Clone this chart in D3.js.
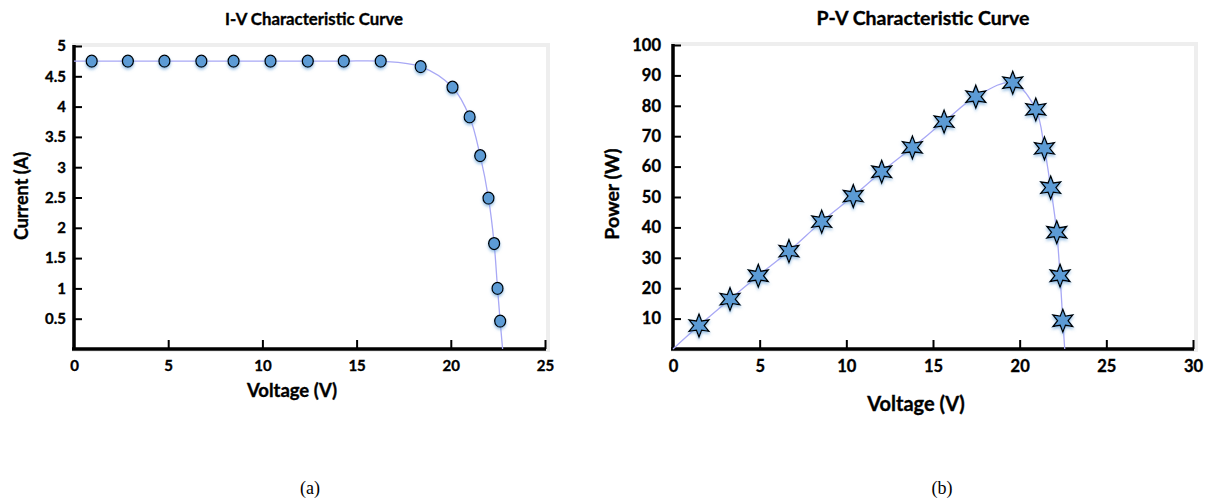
<!DOCTYPE html>
<html>
<head>
<meta charset="utf-8">
<script src="https://cdn.jsdelivr.net/npm/d3@7"></script>
<style>
	body { margin: 0; background: #fff; }
	svg text { font-family: Lato, "Open Sans", sans-serif; font-weight: bold; fill: #000; stroke: #000; stroke-width: 0.35px; }
	svg text.cap { font-family: "Liberation Serif", "DejaVu Serif", serif; font-weight: normal; stroke: none; }
</style>
</head>
<body>
<svg id="chart" width="1209" height="501"></svg>
<script>
// I-V curve markers
var ivVoltage = [0.94, 2.86, 4.80, 6.76, 8.47, 10.43, 12.41, 14.32, 16.28, 18.40, 20.09, 21.0, 21.56, 22.0, 22.3, 22.48, 22.62];
var ivCurrent = [4.75, 4.75, 4.75, 4.75, 4.75, 4.75, 4.75, 4.75, 4.75, 4.66, 4.32, 3.83, 3.19, 2.49, 1.74, 1.0, 0.46];
var ivShortCircuit = 4.75;   // line starts at V = 0
var ivOpenCircuit = 22.75;   // line ends at I = 0

// P-V curve markers
var pvVoltage = [1.50, 3.29, 4.92, 6.69, 8.58, 10.40, 12.04, 13.81, 15.64, 17.47, 19.60, 20.93, 21.43, 21.79, 22.14, 22.33, 22.49];
var pvPower = [7.7, 16.4, 24.1, 32.2, 41.9, 50.3, 58.3, 66.3, 74.8, 83.0, 87.6, 78.8, 66.0, 53.1, 38.4, 24.1, 9.3];
var pvOpenCircuit = 22.6;

var ivXTicks = [0, 5, 10, 15, 20, 25];
var ivYTicks = [0.5, 1, 1.5, 2, 2.5, 3, 3.5, 4, 4.5, 5];
var pvXTicks = [0, 5, 10, 15, 20, 25, 30];
var pvYTicks = [10, 20, 30, 40, 50, 60, 70, 80, 90, 100];

var svg = d3.select("#chart");

var defs = svg.append("defs");
var shadow = defs.append("filter")
	.attr("id", "glow")
	.attr("x", "-50%").attr("y", "-50%")
	.attr("width", "200%").attr("height", "200%");
shadow.append("feDropShadow")
	.attr("dx", 0)
	.attr("dy", 2)
	.attr("stdDeviation", 1.6)
	.attr("flood-color", "#5b9bd5")
	.attr("flood-opacity", 0.6);

var lineColor = "#a8a8f5";
var markFill = "#5b9bd5";

function drawFrame(g, x, y, fs, pad)
{
	var x0 = x.range()[0], x1 = x.range()[1];
	var y0 = y.range()[0], y1 = y.range()[1];

	g.append("rect")
		.attr("x", x0)
		.attr("y", y1 - 1)
		.attr("width", x1 - x0 + 3)
		.attr("height", y0 - y1 + 2)
		.style("fill", "none")
		.style("stroke", "#eeeeee")
		.style("stroke-width", 4);

	var xAxis = d3.axisBottom(x)
		.tickValues(g.datum().xTicks)
		.tickSizeInner(-9)
		.tickSizeOuter(0)
		.tickPadding(11)
		.tickFormat(d3.format("d"));
	var yAxis = d3.axisLeft(y)
		.tickValues(g.datum().yTicks)
		.tickSizeInner(-8)
		.tickSizeOuter(0)
		.tickPadding(pad)
		.tickFormat(function(d) { return d; });

	var gx = g.append("g")
		.attr("transform", "translate(0," + y0 + ")")
		.call(xAxis);
	var gy = g.append("g")
		.attr("transform", "translate(" + x0 + ",0)")
		.call(yAxis);

	[gx, gy].forEach(function(a)
	{
		a.select(".domain").style("stroke", "#000").style("stroke-width", 3.5);
		a.selectAll(".tick line").style("stroke", "#000").style("stroke-width", 2);
		a.selectAll(".tick text").style("font-size", fs + "px").attr("fill", "#000");
	});
	gx.select(".domain").attr("d", "M" + (x0 - 2) + ",0H" + (x1 + 1));
	gy.select(".domain").attr("d", "M0," + (y0 + 1) + "V" + (y1 - 1));
	gx.selectAll(".tick").filter(function(d) { return d == 0; }).select("line").remove();
}

// ---------- I-V chart ----------
var ivX = d3.scaleLinear().domain([0, 25]).range([74, 545]);
var ivY = d3.scaleLinear().domain([0, 5]).range([349, 46]);
var iv = svg.append("g").datum({ xTicks: ivXTicks, yTicks: ivYTicks });
drawFrame(iv, ivX, ivY, 15, 8);

var ivLineData = [[0, ivShortCircuit]]
	.concat(ivVoltage.map(function(v, i) { return [v, ivCurrent[i]]; }))
	.concat([[ivOpenCircuit, 0]]);
iv.append("path")
	.datum(ivLineData)
	.attr("d", d3.line()
		.x(function(d) { return ivX(d[0]); })
		.y(function(d) { return ivY(d[1]); })
		.curve(d3.curveCatmullRom.alpha(0.5)))
	.style("fill", "none")
	.style("stroke", lineColor)
	.style("stroke-width", 1.3);

iv.selectAll(".dot")
	.data(ivVoltage)
	.enter()
	.append("ellipse")
	.attr("class", "dot")
	.attr("cx", function(d) { return ivX(d); })
	.attr("cy", function(d, i) { return ivY(ivCurrent[i]); })
	.attr("rx", 5.5)
	.attr("ry", 6)
	.style("fill", markFill)
	.style("stroke", "#000")
	.style("stroke-width", 1.3)
	.attr("filter", "url(#glow)");

iv.append("text")
	.attr("x", 314)
	.attr("y", 25)
	.style("text-anchor", "middle")
	.style("font-size", "16.8px")
	.text("I-V Characteristic Curve");
iv.append("text")
	.attr("x", 292)
	.attr("y", 397)
	.style("text-anchor", "middle")
	.style("font-size", "18.5px")
	.text("Voltage (V)");
iv.append("text")
	.attr("transform", "translate(28,196) rotate(-90)")
	.style("text-anchor", "middle")
	.style("font-size", "18px")
	.text("Current (A)");

// ---------- P-V chart ----------
var pvX = d3.scaleLinear().domain([0, 30]).range([673, 1193]);
var pvY = d3.scaleLinear().domain([0, 100]).range([349, 45]);
var pv = svg.append("g").datum({ xTicks: pvXTicks, yTicks: pvYTicks });
drawFrame(pv, pvX, pvY, 16.5, 12);

var pvLineData = [[0, 0]]
	.concat(pvVoltage.map(function(v, i) { return [v, pvPower[i]]; }))
	.concat([[pvOpenCircuit, 0]]);
pv.append("path")
	.datum(pvLineData)
	.attr("d", d3.line()
		.x(function(d) { return pvX(d[0]); })
		.y(function(d) { return pvY(d[1]); })
		.curve(d3.curveCatmullRom.alpha(0.5)))
	.style("fill", "none")
	.style("stroke", lineColor)
	.style("stroke-width", 1.3);

function star6(r)
{
	var pts = [];
	for (var k = 0; k < 12; k++)
	{
		var a = -Math.PI / 2 + k * Math.PI / 6;
		var rr = k % 2 == 0 ? r : r * 0.46;
		pts.push([rr * Math.cos(a), rr * Math.sin(a)]);
	}
	return "M" + pts.join("L") + "Z";
}

pv.selectAll(".star")
	.data(pvVoltage)
	.enter()
	.append("path")
	.attr("class", "star")
	.attr("transform", function(d, i) { return "translate(" + pvX(d) + "," + pvY(pvPower[i]) + ")"; })
	.attr("d", star6(11.5))
	.style("fill", markFill)
	.style("stroke", "#000")
	.style("stroke-width", 1.3)
	.style("stroke-linejoin", "miter")
	.attr("filter", "url(#glow)");

pv.append("text")
	.attr("x", 923)
	.attr("y", 25)
	.style("text-anchor", "middle")
	.style("font-size", "19.5px")
	.text("P-V Characteristic Curve");
pv.append("text")
	.attr("x", 916)
	.attr("y", 411)
	.style("text-anchor", "middle")
	.style("font-size", "20px")
	.text("Voltage (V)");
pv.append("text")
	.attr("transform", "translate(619,194) rotate(-90)")
	.style("text-anchor", "middle")
	.style("font-size", "19.5px")
	.text("Power (W)");

// sub-figure captions
svg.append("text")
	.attr("class", "cap")
	.attr("x", 310)
	.attr("y", 494)
	.style("text-anchor", "middle")
	.style("font-size", "18px")
	.text("(a)");
svg.append("text")
	.attr("class", "cap")
	.attr("x", 942)
	.attr("y", 494)
	.style("text-anchor", "middle")
	.style("font-size", "18px")
	.text("(b)");
</script>
</body>
</html>
